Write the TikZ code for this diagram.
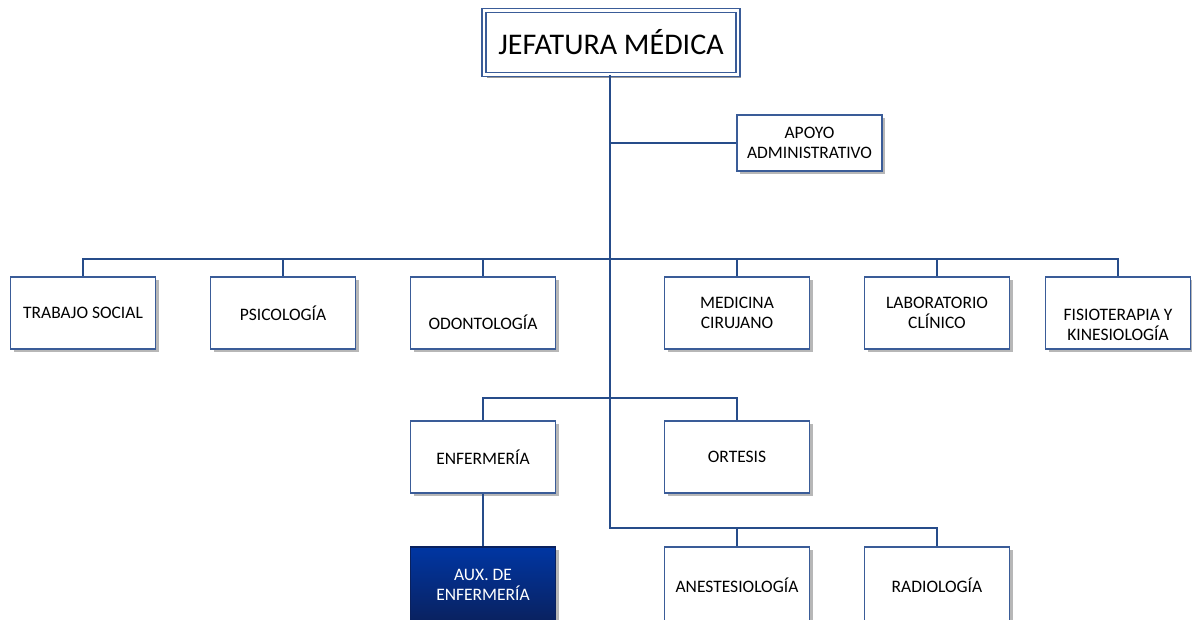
\documentclass[tikz,border=0pt]{standalone}
\usepackage{fontspec}
\setmainfont{Carlito}
\usetikzlibrary{shadows}
\definecolor{lineblue}{HTML}{264C8A}
\definecolor{boxblue}{HTML}{3A5C98}
\definecolor{auxtop}{HTML}{0036A3}
\definecolor{auxbot}{HTML}{0A215E}
\begin{document}
\begin{tikzpicture}[x=1pt,y=-1pt,
  unit/.style={draw=boxblue, line width=1.2pt, fill=white, minimum width=145pt, minimum height=72pt,
    align=center, font=\fontsize{17.5}{19.5}\selectfont, inner sep=2pt,
    drop shadow={shadow xshift=3pt, shadow yshift=-3pt, fill=black!35, opacity=0.8}},
  conn/.style={draw=lineblue, line width=1.5pt},
  mainconn/.style={draw=lineblue, line width=2.2pt}]
\useasboundingbox (0,0) rectangle (1192,619);
\clip (0,0) rectangle (1192,619);
\fill[white] (0,0) rectangle (1192,619);

% top box
\node[draw=boxblue, line width=1.3pt, double=white, double distance=2.6pt, fill=white,
  minimum width=254pt, minimum height=64pt, font=\fontsize{30}{34}\selectfont,
  drop shadow={shadow xshift=3pt, shadow yshift=-3pt, fill=black!50, opacity=0.8}]
  (jefe) at (611,42.5) {JEFATURA MÉDICA};

\node[unit, minimum width=145pt, minimum height=56pt] (apoyo) at (809.5,143) {APOYO\\ADMINISTRATIVO};

% row 1
\node[unit] (ts) at (83,313) {TRABAJO SOCIAL};
\node[unit] (ps) at (283,313) {PSICOLOGÍA};
\node[unit, text height=34pt] (od) at (483,313) {ODONTOLOGÍA};
\node[unit] (mc) at (737,313) {MEDICINA\\CIRUJANO};
\node[unit] (lc) at (937,313) {LABORATORIO\\CLÍNICO};
\node[unit] (fk) at (1118,313) {\rule{0pt}{35pt}FISIOTERAPIA Y\\KINESIOLOGÍA};

% row 2
\node[unit] (enf) at (483,457) {ENFERMERÍA};
\node[unit] (ort) at (737,457) {ORTESIS};

% row 3
\node[unit, draw=auxbot, top color=auxtop, bottom color=auxbot, text=white, minimum height=76pt] (aux) at (483,585) {AUX. DE\\ENFERMERÍA};
\node[unit, minimum height=76pt] (ane) at (737,585) {ANESTESIOLOGÍA};
\node[unit, minimum height=76pt] (rad) at (937,585) {RADIOLOGÍA};

% connectors
\coordinate (b1) at (610,259);
\coordinate (b2) at (610,398);
\coordinate (b3) at (610,528);

\draw[conn] (ts.north) |- (b1) -| (fk.north);
\draw[conn] (ps.north) -- (ps.north |- b1);
\draw[conn] (od.north) -- (od.north |- b1);
\draw[conn] (mc.north) -- (mc.north |- b1);
\draw[conn] (lc.north) -- (lc.north |- b1);

\draw[conn] (enf.north) |- (b2) -| (ort.north);
\draw[conn] (enf.south) -- (aux.north);

\draw[mainconn] (apoyo.west) -- (apoyo.west -| b1);
\draw[mainconn] (jefe.south -| b1) -- (b3) -| (rad.north);
\draw[conn] (ane.north) -- (ane.north |- b3);
\end{tikzpicture}
\end{document}
